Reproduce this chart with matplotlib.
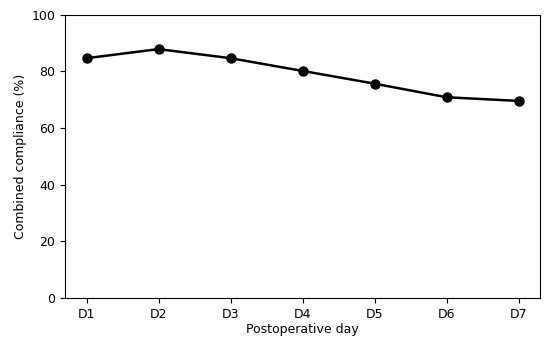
import matplotlib
matplotlib.use('agg')
import matplotlib.pyplot as plt

days = ["D1", "D2", "D3", "D4", "D5", "D6", "D7"]
compliance = [84.7, 87.9, 84.7, 80.2, 75.7, 70.9, 69.6]

plt.rcParams["font.size"] = 9

fig = plt.figure(figsize=(5.5, 3.46), dpi=100)
ax = fig.add_axes([0.118, 0.139, 0.864, 0.818])
ax.plot(days, compliance, color="black", marker="o", linewidth=1.8, markersize=6.5)
ax.set_ylim(0, 100)
ax.set_xlabel("Postoperative day", labelpad=2)
ax.set_ylabel("Combined compliance (%)", labelpad=3)
fig.savefig("out.png")
